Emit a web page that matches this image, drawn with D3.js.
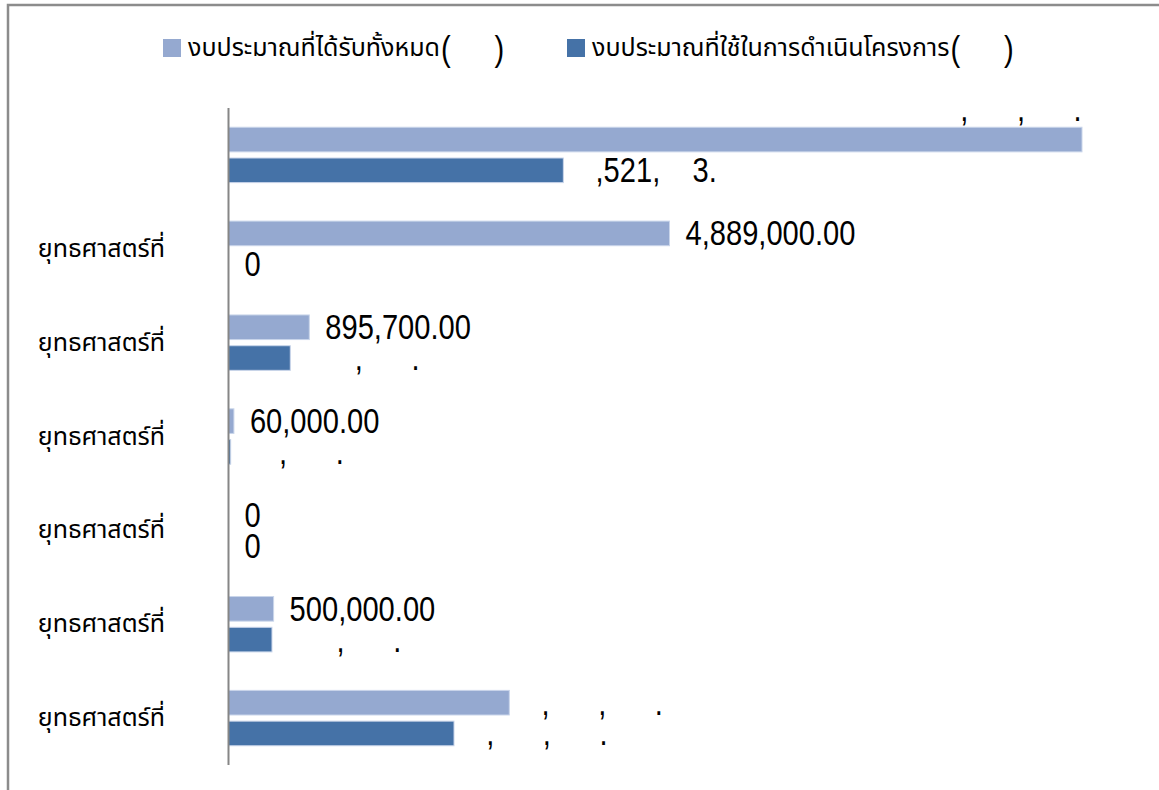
<!DOCTYPE html>
<html><head><meta charset="utf-8">
<script src="https://cdn.jsdelivr.net/npm/d3@7"></script>
<style>
body{margin:0;background:#fff}
svg{display:block}
.num{font-family:"Liberation Sans",Arial,sans-serif;font-size:35.5px;fill:#000;white-space:pre}
.thai{font-family:"Noto Sans Thai","Noto Sans Thai UI","Noto Sans",Tahoma,sans-serif;fill:#000}
</style>
</head><body>
<svg id="c" width="1159" height="790"></svg>
<script>
const H = "\u2007"; // glyph that the original font failed to draw
const categories = ["", "ยุทธศาสตร์ที่", "ยุทธศาสตร์ที่", "ยุทธศาสตร์ที่", "ยุทธศาสตร์ที่", "ยุทธศาสตร์ที่", "ยุทธศาสตร์ที่"];
const seriesNames = ["งบประมาณที่ได้รับทั้งหมด", "งบประมาณที่ใช้ในการดำเนินโครงการ"];
const budgetReceived = [9462000, 4889000, 895700, 60000, 0, 500000, 3113000];
const budgetUsed = [3712000, 0, 685000, 24000, 0, 482000, 2500000];
const labelsReceived = [
  H + "," + H + H + H + "," + H + H + H + "." + H + H,
  "4,889,000.00", "895,700.00", "60,000.00", "0", "500,000.00",
  H + "," + H + H + H + "," + H + H + H + "." + H + H
];
const labelsUsed = [
  H + ",521," + H + H + "3." + H + H,
  "0",
  H + H + H + "," + H + H + H + "." + H + H,
  H + H + "," + H + H + H + "." + H + H,
  "0",
  H + H + H + "," + H + H + H + "." + H + H,
  H + "," + H + H + H + "," + H + H + H + "." + H + H
];
const legendUnit = "(" + H + H + "\u2009\u2009)";
const colors = ["#95A9D0", "#4572A7"];

const NARROW = 0.82;
const svg = d3.select("#c");
const W = 1159, Hh = 790;
const margin = {left: 228.5, right: 77, top: 108, bottom: 25};

// frame
svg.append("path")
  .attr("d", `M8,${Hh + 5} V5 H${W + 5}`)
  .attr("fill", "none").attr("stroke", "#8c8c8c").attr("stroke-width", 2.5);

const x = d3.scaleLinear()
  .domain([0, d3.max(budgetReceived.concat(budgetUsed))])
  .range([margin.left, W - margin.right]);
const y = d3.scaleBand()
  .domain(d3.range(categories.length))
  .range([margin.top, Hh - margin.bottom])
  .paddingInner(0.41).paddingOuter(0.205);
const ySub = d3.scaleBand().domain([0, 1]).range([0, y.bandwidth()]).paddingInner(0.2);

const series = [budgetReceived, budgetUsed];
const labels = [labelsReceived, labelsUsed];

series.forEach((vals, s) => {
  svg.append("g").selectAll("rect").data(vals).join("rect")
    .attr("x", x(0))
    .attr("y", (d, i) => y(i) + ySub(s))
    .attr("width", d => x(d) - x(0))
    .attr("height", ySub.bandwidth())
    .attr("fill", colors[s])
    .attr("stroke", d => d > 0 ? "#c9d5ea" : "none")
    .attr("stroke-width", 1);
});

// category axis line
const yAxis = d3.axisLeft(y).tickSize(0).tickFormat("");
const gAx = svg.append("g").attr("transform", `translate(${x(0)},0)`).call(yAxis);
gAx.select(".domain").attr("stroke", "#868686").attr("stroke-width", 2)
  .attr("d", `M0,${margin.top}V${Hh - margin.bottom}`);

// category labels
svg.append("g").selectAll("text").data(categories).join("text")
  .attr("class", "thai")
  .attr("x", 165).attr("y", (d, i) => y(i) + y.bandwidth() / 2)
  .attr("text-anchor", "end").attr("dominant-baseline", "central")
  .attr("font-size", 25).text(d => d);

// value labels
series.forEach((vals, s) => {
  svg.append("g").selectAll("text").data(vals).join("text")
    .attr("class", "num")
    .text((d, i) => labels[s][i])
    .each(function(d, i) {
      const t = d3.select(this);
      const cy = y(i) + ySub(s) + ySub.bandwidth() / 2;
      const len = this.getComputedTextLength() * NARROW;
      let lx = x(d) + 16, ly = cy, anchor = "start";
      if (lx + len > W) { lx = x(d) + 32; ly = cy - ySub.step(); anchor = "end"; }
      t.attr("x", 0).attr("y", 0).attr("text-anchor", anchor).attr("dominant-baseline", "central")
       .attr("transform", `translate(${lx},${ly}) scale(${NARROW},1)`);
    });
});

// legend
const legendX = [163, 567];
seriesNames.forEach((name, s) => {
  const g = svg.append("g").attr("transform", `translate(${legendX[s]},39)`);
  g.append("rect").attr("width", 18).attr("height", 18).attr("fill", colors[s]);
  const t = g.append("text").attr("class", "thai").attr("font-size", 25)
    .attr("x", 25).attr("y", 9).attr("dominant-baseline", "central").text(name);
  const tw = t.node().getComputedTextLength();
  g.append("text").attr("class", "num").attr("font-size", 37)
    .attr("dominant-baseline", "central")
    .attr("transform", `translate(${25 + tw + 1},10) scale(${NARROW},1)`)
    .text(legendUnit);
});
</script>
</body></html>
